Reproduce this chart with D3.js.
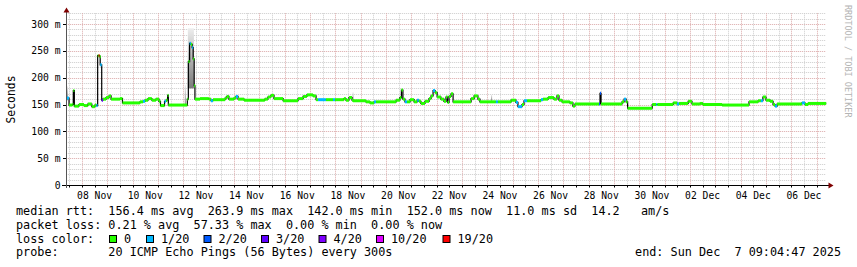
<!DOCTYPE html>
<html><head><meta charset="utf-8">
<script src="https://cdn.jsdelivr.net/npm/d3@7"></script>
<style>html,body{margin:0;padding:0;background:#fff}svg{display:block}text{font-family:"DejaVu Sans Mono",monospace;white-space:pre}</style>
</head><body>
<svg id="c" width="857" height="267"></svg>
<script>
// ---- data (day number counted from Oct 31 00:00 UTC, so 8 = 8 Nov 00:00, 31 = 1 Dec) ----
const medDays = [7.38,7.49,7.62,7.66,7.70,7.88,8.08,8.23,8.39,8.51,8.57,8.62,8.66,8.70,8.72,8.78,8.83,8.95,9.07,9.15,9.50,9.60,
10.29,10.41,10.49,10.61,10.76,10.92,11.04,11.10,11.26,11.32,11.38,11.41,12.16,12.20,12.25,12.30,12.35,12.39,12.43,12.46,12.66,
13.01,13.09,13.17,13.65,13.72,13.80,14.00,14.08,14.16,14.40,15.22,15.34,15.46,15.58,15.94,16.53,16.73,16.88,17.12,17.24,17.32,
17.63,17.91,17.99,18.34,18.42,18.54,18.66,18.70,19.21,19.37,19.53,19.61,20.40,20.55,20.61,20.67,20.75,20.83,20.95,21.11,21.23,
21.30,21.38,21.54,21.70,21.78,21.86,21.94,22.02,22.17,22.29,22.37,22.43,22.49,22.57,22.65,23.36,23.48,23.63,23.71,24.34,24.42,
24.94,25.13,25.21,25.37,25.45,25.57,26.12,26.20,26.40,26.63,26.75,26.83,26.95,27.26,27.38,27.46,28.41,28.45,28.49,29.32,29.40,
29.48,29.54,30.51,30.67,30.71,31.34,31.49,31.57,31.93,32.08,32.40,32.51,33.27,34.33,34.69,34.80,34.88,35.00,35.16,35.28,35.36,
35.44,36.42,36.54,36.66];
const medMs = [162,149,150,176,147,150,148,151,146,149,148,241,241,239,224,158,160,163,166,160,161,153,
155,156,158,161,158,160,156,148,156,158,167,149,160,230,264,262,256,235,185,160,161,
160,157,159,162,165,160,162,165,160,158,160,164,167,161,157,161,165,168,166,159,159,
159,159,159,161,158,163,158,157,155,153,155,155,158,163,177,160,155,155,159,155,158,
156,152,156,161,166,176,172,164,160,156,164,154,165,170,155,161,166,160,155,155,155,
158,154,146,150,157,157,159,160,163,160,166,158,155,153,147,151,151,171,151,155,160,
155,143,150,150,150,153,151,152,156,151,152,150,149,155,157,157,164,158,156,150,147,
151,153,150,152];
const lossCnt = [1,0,0,0,0,0,0,0,0,0,1,0,19,0,1,3,0,0,0,0,0,0,
0,1,0,0,0,0,0,0,1,0,0,0,0,0,1,0,1,0,0,0,0,
0,1,0,0,0,0,0,1,0,0,0,0,0,0,0,0,0,0,0,0,1,
0,1,0,0,0,0,0,0,0,0,1,0,0,0,0,0,1,0,0,0,1,
0,0,0,0,0,1,0,0,0,0,0,0,0,0,0,0,0,0,0,1,0,
0,1,1,0,1,0,1,0,0,0,0,0,0,0,0,0,2,2,0,0,1,
0,0,0,1,0,0,1,0,0,0,0,0,0,0,0,1,0,0,0,0,1,
0,1,0,0];
// smoke (ping spread) where it shows above the median line
const smokeStart = [7.376,7.64,12.06,12.18,18.68,20.62,24.15];
const smokeEnd   = [7.45,7.68,12.09,12.42,18.72,20.66,24.19];
const smokeLo    = [158,150,150,180,158,160,157];
const smokeHi    = [184,177,186,292,173,177,168];

const lossLevels = [0,1,2,3,4,10,19];
const lossLabels = ["0","1/20","2/20","3/20","4/20","10/20","19/20"];
const lossColors = ["#26ff00","#00b8ff","#0059ff","#5e00ff","#7e00ff","#dd00ff","#ff0000"];

const yTickVals = [0,50,100,150,200,250,300];
const xTickDays = [8,10,12,14,16,18,20,22,24,26,28,30,32,34,36];

const legendRows = [
 "median rtt:  156.4 ms avg  263.9 ms max  142.0 ms min  152.0 ms now  11.0 ms sd  14.2   am/s",
 "packet loss: 0.21 % avg  57.33 % max  0.00 % min  0.00 % now",
 "loss color:",
 "probe:       20 ICMP Echo Pings (56 Bytes) every 300s"
];
const endText = "end: Sun Dec  7 09:04:47 2025";

// ---- drawing ----
const base = Date.UTC(2025,9,31);
const toDate = d => new Date(base + d*86400000);
const startT = new Date(Date.UTC(2025,10,7,9,4,47)), endT = new Date(Date.UTC(2025,11,7,9,4,47));
const X0 = 66.2, X1 = 826.2, Y0 = 185, Ytop = 13.3;
const x = d3.scaleUtc().domain([startT,endT]).range([X0,X1]);
const y = d3.scaleLinear().domain([0,320]).range([Y0,Ytop]);
const svg = d3.select("#c");
svg.append("rect").attr("width",857).attr("height",267).attr("fill","#fff");

const defs = svg.append("defs");
const gr = defs.append("linearGradient").attr("id","smk").attr("x1",0).attr("y1",0).attr("x2",0).attr("y2",1);
gr.append("stop").attr("offset","0%").attr("stop-color","#eeeeee");
gr.append("stop").attr("offset","100%").attr("stop-color","#7a7a7a");

const g = svg.append("g");
// horizontal grid
for (let v=10; v<=320; v+=10) {
  const major = v%50===0;
  const yy = Math.round(y(v))+0.5;
  g.append("line").attr("x1",X0).attr("x2",X1).attr("y1",yy).attr("y2",yy)
   .attr("stroke", major ? "#dba8a8" : "#cccccc").attr("stroke-dasharray","1,1");
}
// vertical grid: midnight major, noon minor
const dayTicks = d3.utcHour.every(12).range(startT,endT);
dayTicks.forEach(t => {
  const major = t.getUTCHours()===0;
  const xx = Math.round(x(t))+0.5;
  g.append("line").attr("x1",xx).attr("x2",xx).attr("y1",Ytop).attr("y2",Y0)
   .attr("stroke", major ? "#dba8a8" : "#cccccc").attr("stroke-dasharray","1,1");
  g.append("line").attr("x1",xx).attr("x2",xx).attr("y1",Y0).attr("y2",Y0+2.5).attr("stroke","#000");
});

// smoke
smokeStart.forEach((s,i) => {
  svg.append("rect").attr("x",x(toDate(s))).attr("width",Math.max(1,x(toDate(smokeEnd[i]))-x(toDate(s))))
    .attr("y",y(smokeHi[i])).attr("height",y(smokeLo[i])-y(smokeHi[i])).attr("fill","url(#smk)");
});

// median black step line
const pts = medDays.map((d,i)=>[x(toDate(d)), y(medMs[i])]);
pts.push([x(endT), y(medMs[medMs.length-1])]);
svg.append("path").attr("d", d3.line().curve(d3.curveStepAfter)(pts))
  .attr("fill","none").attr("stroke","#000").attr("stroke-width",1.2);
// loss-coloured median segments
const colorOf = l => lossColors[lossLevels.indexOf(l)];
medDays.forEach((d,i) => {
  const xa = x(toDate(d));
  const xb = i+1<medDays.length ? x(toDate(medDays[i+1])) : x(endT);
  svg.append("rect").attr("x",xa).attr("width",Math.max(1,xb-xa))
    .attr("y",y(medMs[i])-1.5).attr("height",3).attr("fill",colorOf(lossCnt[i]));
});

// axes
svg.append("line").attr("x1",62).attr("x2",829).attr("y1",Y0+0.5).attr("y2",Y0+0.5).attr("stroke","#000");
svg.append("line").attr("x1",66.5).attr("x2",66.5).attr("y1",Y0+3).attr("y2",11).attr("stroke","#555");
svg.append("path").attr("d","M63.5,12.5L66.5,7.5L69.5,12.5Z").attr("fill","#7f0000");
svg.append("path").attr("d","M828.5,182.5L833.5,185.5L828.5,188.5Z").attr("fill","#7f0000");
yTickVals.forEach(v => {
  const yy = Math.round(y(v))+0.5;
  svg.append("line").attr("x1",63).attr("x2",66).attr("y1",yy).attr("y2",yy).attr("stroke","#000");
  svg.append("text").attr("x",60.5).attr("y",y(v)+3.5).attr("text-anchor","end")
    .attr("font-size","9.7px").attr("fill","#000").text(v===0?"0":v+" m");
});
const fmt = d3.utcFormat("%d %b");
xTickDays.forEach(d => {
  svg.append("text").attr("x",x(toDate(d+0.5))).attr("y",198.5).attr("text-anchor","middle")
    .attr("font-size","9.7px").attr("fill","#000").text(fmt(toDate(d)));
});
svg.append("text").attr("transform","translate(14.5,99.5) rotate(-90)").attr("text-anchor","middle")
  .attr("font-size","11.4px").attr("fill","#000").text("Seconds");
svg.append("text").attr("transform","translate(845,5) rotate(90)").attr("text-anchor","start")
  .attr("font-size","8.5px").attr("fill","#b4b4b4").text("RRDTOOL / TOBI OETIKER");

// legend
const rowY = [215, 228.5, 242.5, 256];
legendRows.forEach((r,i) => {
  svg.append("text").attr("x",16).attr("y",rowY[i]).attr("font-size","11.8px").attr("fill","#000").text(r);
});
const sqX = [109,146,203.5,261,318.5,376,442.5];
lossLabels.forEach((l,i) => {
  svg.append("rect").attr("x",sqX[i]+0.5).attr("y",235.5).attr("width",7).attr("height",7)
    .attr("fill",lossColors[i]).attr("stroke","#000").attr("stroke-width",1);
  svg.append("text").attr("x",sqX[i]+15).attr("y",rowY[2]).attr("font-size","11.8px").attr("fill","#000").text(l);
});
svg.append("text").attr("x",841).attr("y",rowY[3]).attr("text-anchor","end").attr("font-size","11.8px").attr("fill","#000").text(endText);
</script>
</body></html>
